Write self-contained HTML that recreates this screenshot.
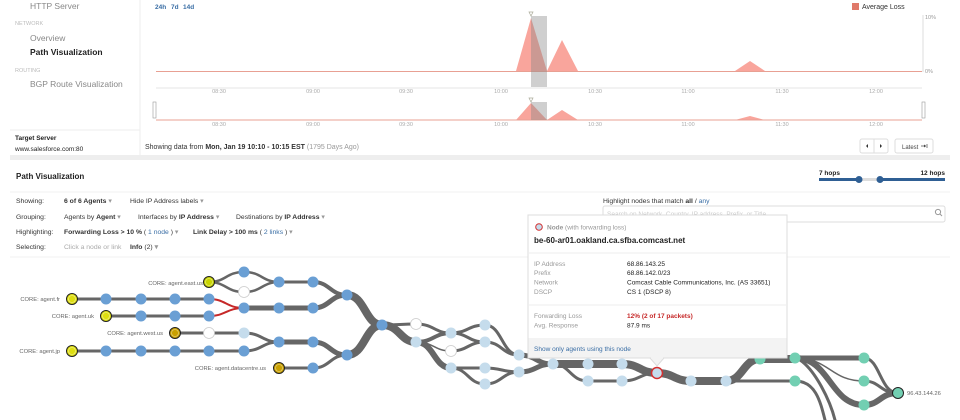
<!DOCTYPE html>
<html><head><meta charset="utf-8"><style>
html,body{margin:0;padding:0;background:#fff;}
svg{display:block;font-family:"Liberation Sans",sans-serif;}
</style></head><body>
<svg width="960" height="420" viewBox="0 0 960 420" xmlns="http://www.w3.org/2000/svg">
<rect width="960" height="420" fill="#fff"/>
<text x="30" y="9" font-size="8.5" fill="#888">HTTP Server</text>
<text x="15" y="25" font-size="5.5" fill="#bbb">NETWORK</text>
<text x="30" y="41" font-size="8.5" fill="#888">Overview</text>
<text x="30" y="55" font-size="8.5" font-weight="bold" fill="#222">Path Visualization</text>
<text x="15" y="72" font-size="5.5" fill="#bbb">ROUTING</text>
<text x="30" y="87" font-size="8.5" fill="#888">BGP Route Visualization</text>
<line x1="10" y1="130" x2="140" y2="130" stroke="#eee"/>
<line x1="140" y1="0" x2="140" y2="155" stroke="#eee"/>
<text x="15" y="140" font-size="6.5" font-weight="bold" fill="#222">Target Server</text>
<text x="15" y="151" font-size="6.5" fill="#222">www.salesforce.com:80</text>
<text x="155" y="9" font-size="6.5" font-weight="bold" fill="#3a6ea5">24h</text>
<text x="171" y="9" font-size="6.5" font-weight="bold" fill="#3a6ea5">7d</text>
<text x="183" y="9" font-size="6.5" font-weight="bold" fill="#3a6ea5">14d</text>
<rect x="852" y="3" width="7" height="7" fill="#e07a6a"/>
<text x="862" y="9" font-size="7" fill="#333">Average Loss</text>
<line x1="923" y1="15" x2="923" y2="72" stroke="#ddd"/>
<text x="925" y="19" font-size="5.5" fill="#999">10%</text>
<text x="925" y="73" font-size="5.5" fill="#999">0%</text>
<line x1="156" y1="88" x2="922" y2="88" stroke="#eee" stroke-width="1.5"/>
<polygon points="516,71 531,18 547,71 562,40 578,71" fill="#f9a59c"/>
<polygon points="735,71 750,61 765,71" fill="#f9a59c"/>
<line x1="156" y1="71.5" x2="922" y2="71.5" stroke="#e8a093" stroke-width="1"/>
<rect x="531" y="16" width="16" height="71" fill="#888" opacity="0.4"/>
<polygon points="529,12 533,12 531,16" fill="none" stroke="#aa9" stroke-width="0.7"/>
<g font-size="5.5" fill="#aaa" text-anchor="middle">
<text x="219" y="93">08:30</text><text x="313" y="93">09:00</text><text x="406" y="93">09:30</text><text x="501" y="93">10:00</text><text x="595" y="93">10:30</text><text x="688" y="93">11:00</text><text x="782" y="93">11:30</text><text x="876" y="93">12:00</text>
<text x="219" y="126">08:30</text><text x="313" y="126">09:00</text><text x="406" y="126">09:30</text><text x="501" y="126">10:00</text><text x="595" y="126">10:30</text><text x="688" y="126">11:00</text><text x="782" y="126">11:30</text><text x="876" y="126">12:00</text>
</g>
<polygon points="516,120 531,103 547,120 562,110 578,120" fill="#f9a59c"/>
<polygon points="735,120 750,116 765,120" fill="#f9a59c"/>
<line x1="156" y1="120" x2="922" y2="120" stroke="#e8a093"/>
<rect x="531" y="102" width="16" height="18" fill="#888" opacity="0.4"/>
<polygon points="529,98 533,98 531,102" fill="none" stroke="#aa9" stroke-width="0.7"/>
<rect x="153" y="102" width="3" height="16" fill="#fff" stroke="#999" stroke-width="0.6"/>
<rect x="922" y="102" width="3" height="16" fill="#fff" stroke="#999" stroke-width="0.6"/>
<text x="145" y="149" font-size="7" fill="#333">Showing data from <tspan font-weight="bold">Mon, Jan 19 10:10 - 10:15 EST</tspan> <tspan fill="#999">(1795 Days Ago)</tspan></text>
<rect x="860" y="139" width="28" height="14" rx="2" fill="#fff" stroke="#ddd"/>
<line x1="874" y1="139" x2="874" y2="153" stroke="#ddd"/>
<polygon points="868,144 866,146 868,148" fill="#333"/>
<polygon points="880,144 882,146 880,148" fill="#333"/>
<rect x="895" y="139" width="38" height="14" rx="2" fill="#fff" stroke="#ddd"/>
<text x="902" y="149" font-size="6" fill="#444">Latest</text>
<line x1="921" y1="146" x2="926" y2="146" stroke="#444" stroke-width="0.7"/>
<polygon points="924,144.5 926,146 924,147.5" fill="#444"/>
<line x1="927" y1="144" x2="927" y2="148" stroke="#444" stroke-width="0.7"/>
<rect x="10" y="155" width="940" height="5" fill="#eee"/>
<text x="16" y="179" font-size="8" font-weight="bold" fill="#222">Path Visualization</text>
<text x="819" y="175" font-size="6.5" font-weight="bold" fill="#222">7 hops</text>
<text x="945" y="175" font-size="6.5" font-weight="bold" fill="#222" text-anchor="end">12 hops</text>
<line x1="819" y1="179.5" x2="945" y2="179.5" stroke="#2f5f94" stroke-width="3"/>
<line x1="859" y1="179.5" x2="880" y2="179.5" stroke="#ddd" stroke-width="3"/>
<circle cx="859" cy="179.5" r="3.5" fill="#2f5f94"/><circle cx="880" cy="179.5" r="3.5" fill="#2f5f94"/>
<line x1="10" y1="192" x2="950" y2="192" stroke="#f0f0f0"/>
<g font-size="6.8" fill="#333">
<text x="16" y="203">Showing:</text>
<text x="64" y="203" font-weight="bold">6 of 6 Agents <tspan fill="#999" font-weight="normal">▾</tspan></text>
<text x="130" y="203">Hide IP Address labels <tspan fill="#999">▾</tspan></text>
<text x="16" y="219">Grouping:</text>
<text x="64" y="219">Agents by <tspan font-weight="bold">Agent</tspan> <tspan fill="#999">▾</tspan></text>
<text x="138" y="219">Interfaces by <tspan font-weight="bold">IP Address</tspan> <tspan fill="#999">▾</tspan></text>
<text x="236" y="219">Destinations by <tspan font-weight="bold">IP Address</tspan> <tspan fill="#999">▾</tspan></text>
<text x="16" y="234">Highlighting:</text>
<text x="64" y="234" font-weight="bold">Forwarding Loss &gt; 10 % <tspan font-weight="normal">( <tspan fill="#3a6ea5">1 node</tspan> ) <tspan fill="#999">▾</tspan></tspan></text>
<text x="193" y="234" font-weight="bold">Link Delay &gt; 100 ms <tspan font-weight="normal">( <tspan fill="#3a6ea5">2 links</tspan> ) <tspan fill="#999">▾</tspan></tspan></text>
<text x="16" y="249">Selecting:</text>
<text x="64" y="249" fill="#aaa">Click a node or link</text>
<text x="130" y="249" font-weight="bold">Info <tspan font-weight="normal">(2)</tspan> <tspan fill="#999">▾</tspan></text>
<text x="603" y="203">Highlight nodes that match <tspan font-weight="bold">all</tspan> / <tspan fill="#3a6ea5">any</tspan></text>
</g>
<rect x="603" y="206" width="342" height="16" rx="2" fill="#fff" stroke="#ddd"/>
<text x="607" y="216" font-size="6.5" fill="#ccc">Search on Network, Country, IP address, Prefix, or Title</text>
<circle cx="938" cy="212" r="2.6" fill="none" stroke="#999"/><line x1="940" y1="214" x2="942" y2="216" stroke="#999"/>
<line x1="10" y1="257" x2="950" y2="257" stroke="#f0f0f0"/>
<g fill="none" stroke="#666" stroke-linecap="round">
<path d="M209 282C226 282 226 272 244 272M209 282C226 282 226 292 244 292M244 272C262 272 262 282 279 282M244 292C262 292 262 282 279 282" stroke-width="2.5"/>
<path d="M279 282H313" stroke-width="3"/>
<path d="M313 282C330 282 330 295 347 295" stroke-width="4"/>
<path d="M72 299H209M106 316H209" stroke-width="3"/>
<path d="M244 308H313C330 308 330 295 347 295" stroke-width="5"/>
<path d="M347 295C365 295 365 325 382 325" stroke-width="8"/>
<path d="M175 333H244C262 333 262 342 279 342M72 351H244C262 351 262 342 279 342" stroke-width="3"/>
<path d="M279 342H313C330 342 330 355 347 355" stroke-width="5"/>
<path d="M279 368H313C330 368 330 355 347 355" stroke-width="3"/>
<path d="M347 355C365 355 365 325 382 325" stroke-width="8"/>
<path d="M382 325C400 325 400 324 416 324C434 324 434 333 451 333" stroke-width="3"/>
<path d="M382 325C400 325 400 342 416 342" stroke-width="8"/>
<path d="M416 342C434 342 434 333 451 333" stroke-width="4"/>
<path d="M416 342C434 342 434 351 451 351" stroke-width="1.5"/>
<path d="M416 342C434 342 434 368 451 368" stroke-width="6"/>
<path d="M451 333C468 333 468 325 485 325M451 333C468 333 468 342 485 342M451 368H485M451 368C468 368 468 384 485 384M451 351C468 351 468 342 485 342" stroke-width="3"/>
<path d="M485 325C502 325 502 355 519 355M485 342C502 342 502 355 519 355M485 368C502 368 502 372 519 372M485 384C502 384 502 372 519 372" stroke-width="3"/>
<path d="M519 355C536 355 536 364 553 364M519 372C536 372 536 364 553 364" stroke-width="5"/>
<path d="M553 364H622C640 364 640 373 657 373C674 373 674 381 691 381H726C743 381 743 359 760 359H795" stroke-width="8"/>
<path d="M553 364C570 364 570 381 588 381H622C640 381 640 373 657 373" stroke-width="3"/>
<path d="M726 381C743 381 760 381 795 381" stroke-width="3"/>
<path d="M795 358H864" stroke-width="5"/>
<path d="M795 358C830 358 830 381 864 381" stroke-width="1.5"/>
<path d="M795 358C830 358 830 405 864 405" stroke-width="6"/>
<path d="M795 381C815 381 820 400 825 420M800 360C815 370 830 400 835 420" stroke-width="3"/>
<path d="M864 358C880 358 880 393 898 393M864 381C880 381 880 393 898 393" stroke-width="3"/>
<path d="M864 405C880 405 880 393 898 393" stroke-width="6"/>
</g>
<g fill="none" stroke="#c62828" stroke-width="2">
<path d="M209 299C226 299 226 308 244 308M209 316C226 316 226 308 244 308"/>
</g>
<g fill="#6a9fd4">
<circle cx="244" cy="272" r="5.5"/><circle cx="279" cy="282" r="5.5"/><circle cx="313" cy="282" r="5.5"/>
<circle cx="106" cy="299" r="5.5"/><circle cx="141" cy="299" r="5.5"/><circle cx="175" cy="299" r="5.5"/><circle cx="209" cy="299" r="5.5"/>
<circle cx="244" cy="308" r="5.5"/><circle cx="279" cy="308" r="5.5"/><circle cx="313" cy="308" r="5.5"/>
<circle cx="141" cy="316" r="5.5"/><circle cx="175" cy="316" r="5.5"/><circle cx="209" cy="316" r="5.5"/>
<circle cx="106" cy="351" r="5.5"/><circle cx="141" cy="351" r="5.5"/><circle cx="175" cy="351" r="5.5"/><circle cx="209" cy="351" r="5.5"/><circle cx="244" cy="351" r="5.5"/>
<circle cx="279" cy="342" r="5.5"/><circle cx="313" cy="342" r="5.5"/><circle cx="313" cy="368" r="5.5"/>
<circle cx="347" cy="295" r="5.5"/><circle cx="347" cy="355" r="5.5"/><circle cx="382" cy="325" r="5.5"/>
</g>
<g fill="#fff" stroke="#ccc" stroke-width="0.8">
<circle cx="244" cy="292" r="5.5"/><circle cx="209" cy="333" r="5.5"/><circle cx="416" cy="324" r="5.5"/><circle cx="451" cy="351" r="5.5"/>
</g>
<g fill="#c5dcec">
<circle cx="244" cy="333" r="5.5"/><circle cx="416" cy="342" r="5.5"/><circle cx="451" cy="333" r="5.5"/><circle cx="451" cy="368" r="5.5"/>
<circle cx="485" cy="325" r="5.5"/><circle cx="485" cy="342" r="5.5"/><circle cx="485" cy="368" r="5.5"/><circle cx="485" cy="384" r="5.5"/>
<circle cx="519" cy="355" r="5.5"/><circle cx="519" cy="372" r="5.5"/><circle cx="553" cy="364" r="5.5"/><circle cx="588" cy="364" r="5.5"/><circle cx="622" cy="364" r="5.5"/>
<circle cx="588" cy="381" r="5.5"/><circle cx="622" cy="381" r="5.5"/><circle cx="691" cy="381" r="5.5"/><circle cx="726" cy="381" r="5.5"/>
</g>
<circle cx="657" cy="373" r="5.5" fill="#c5dcec" stroke="#d32f2f" stroke-width="1.5"/>
<g fill="#72cfb2">
<circle cx="760" cy="359" r="5.5"/><circle cx="795" cy="358" r="5.5"/><circle cx="795" cy="381" r="5.5"/>
<circle cx="864" cy="358" r="5.5"/><circle cx="864" cy="381" r="5.5"/><circle cx="864" cy="405" r="5.5"/>
</g>
<circle cx="898" cy="393" r="5.5" fill="#72cfb2" stroke="#222" stroke-width="1"/>
<g stroke="#222" stroke-width="1">
<circle cx="209" cy="282" r="5.5" fill="#c8d400"/><circle cx="72" cy="299" r="5.5" fill="#dede10"/><circle cx="106" cy="316" r="5.5" fill="#dede10"/>
<circle cx="175" cy="333" r="5.5" fill="#c9a000"/><circle cx="72" cy="351" r="5.5" fill="#dede10"/><circle cx="279" cy="368" r="5.5" fill="#c9a000"/>
</g>
<g fill="none" stroke="#fff" stroke-width="0.6" opacity="0.6">
<circle cx="209" cy="282" r="3.5"/><circle cx="72" cy="299" r="3.5"/><circle cx="106" cy="316" r="3.5"/><circle cx="175" cy="333" r="3.5"/><circle cx="72" cy="351" r="3.5"/><circle cx="279" cy="368" r="3.5"/>
</g>
<g font-size="5.8" fill="#666">
<text x="203" y="285" text-anchor="end">CORE: agent.east.us</text>
<text x="60" y="301" text-anchor="end">CORE: agent.fr</text>
<text x="94" y="318" text-anchor="end">CORE: agent.uk</text>
<text x="163" y="335" text-anchor="end">CORE: agent.west.us</text>
<text x="60" y="353" text-anchor="end">CORE: agent.jp</text>
<text x="266" y="370" text-anchor="end">CORE: agent.datacentre.us</text>
<text x="907" y="395">96.43.144.26</text>
</g>
<rect x="528" y="215" width="259" height="143" fill="#fff" stroke="#ddd"/>
<rect x="528.5" y="338" width="258" height="19.5" fill="#f3f3f3"/>
<polygon points="650,358 657,366 664,358" fill="#f3f3f3" stroke="#ddd"/>
<line x1="651" y1="358" x2="663" y2="358" stroke="#f3f3f3" stroke-width="1.5"/>
<circle cx="539" cy="227" r="3.3" fill="#c5dcec" stroke="#d32f2f" stroke-width="1"/>
<text x="547" y="229.5" font-size="6.5" fill="#999"><tspan font-weight="bold">Node</tspan> (with forwarding loss)</text>
<text x="534" y="243" font-size="8" font-weight="bold" fill="#222">be-60-ar01.oakland.ca.sfba.comcast.net</text>
<line x1="528" y1="253" x2="787" y2="253" stroke="#eee"/>
<g font-size="6.5">
<text x="534" y="266" fill="#999">IP Address</text><text x="627" y="266" fill="#222">68.86.143.25</text>
<text x="534" y="275" fill="#999">Prefix</text><text x="627" y="275" fill="#222">68.86.142.0/23</text>
<text x="534" y="284.5" fill="#999">Network</text><text x="627" y="284.5" fill="#222">Comcast Cable Communications, Inc. (AS 33651)</text>
<text x="534" y="294" fill="#999">DSCP</text><text x="627" y="294" fill="#222">CS 1 (DSCP 8)</text>
<text x="534" y="318" fill="#999">Forwarding Loss</text><text x="627" y="318" fill="#c62828" font-weight="bold">12% (2 of 17 packets)</text>
<text x="534" y="327.5" fill="#999">Avg. Response</text><text x="627" y="327.5" fill="#222">87.9 ms</text>
<text x="534" y="351" fill="#3a6ea5">Show only agents using this node</text>
</g>
<line x1="528" y1="305" x2="787" y2="305" stroke="#eee"/>
</svg>
</body></html>
